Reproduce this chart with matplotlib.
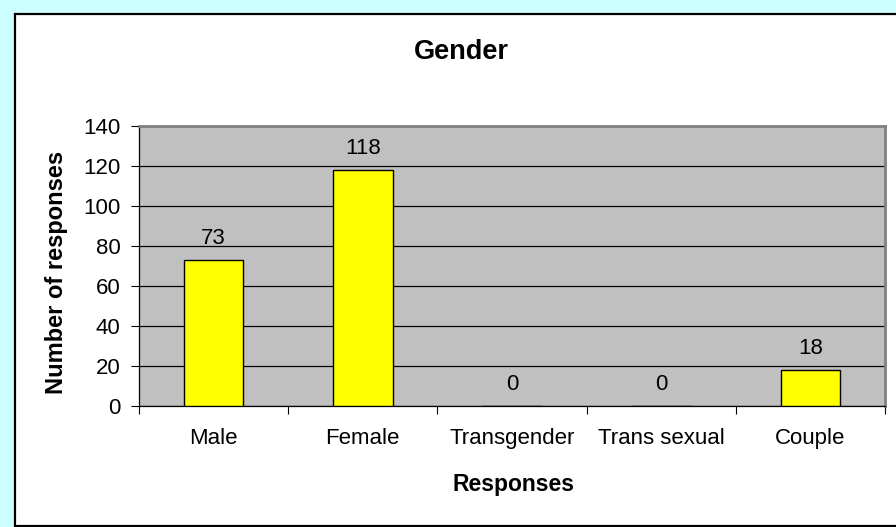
import matplotlib
matplotlib.use("Agg")
import matplotlib.pyplot as plt
from matplotlib.patches import Rectangle

categories = ["Male", "Female", "Transgender", "Trans sexual", "Couple"]
values = [73, 118, 0, 0, 18]
yticks = [0, 20, 40, 60, 80, 100, 120, 140]

plt.rcParams['font.family'] = ['Liberation Sans', 'DejaVu Sans']

W, H = 896, 527
fig = plt.figure(figsize=(W / 100, H / 100), dpi=100)
fig.patch.set_facecolor('#CCFFFF')

# white chart area with black border
bg = Rectangle((15 / W, 1.0 / H), 1.0, (527 - 14 - 1) / H,
               transform=fig.transFigure, facecolor='white',
               edgecolor='black', linewidth=1.6, zorder=-10)
fig.patches.append(bg)

ax = fig.add_axes([139 / W, 1 - 406 / H, (885 - 139) / W, (406 - 126) / H])
ax.set_zorder(5)
ax.set_facecolor('#C0C0C0')
x = list(range(len(categories)))
ax.bar(x, values, width=0.4, color='#FFFF00', edgecolor='black', linewidth=1.0, zorder=3)
ax.set_xlim(-0.5, len(categories) - 0.5)
ax.set_ylim(0, 140)
ax.set_yticks(yticks)
ax.set_yticklabels([str(t) for t in yticks], fontsize=16)
ax.yaxis.grid(True, color='black', linewidth=0.9, zorder=1)
ax.set_axisbelow(True)

ax.set_xticks([i + 0.5 for i in range(-1, len(categories))])
ax.set_xticklabels([])
ax.set_xticks(x, minor=True)
ax.set_xticklabels(categories, minor=True, fontsize=16)
ax.tick_params(axis='x', which='minor', length=0, pad=15.5)
ax.tick_params(axis='x', which='major', length=6, width=0.8, direction='out')
ax.tick_params(axis='y', length=5.5, width=0.8, direction='out', pad=8)

for s in ['left', 'bottom']:
    ax.spines[s].set_color('black')
    ax.spines[s].set_linewidth(0.9)
for s in ['top', 'right']:
    ax.spines[s].set_color('#808080')
    ax.spines[s].set_linewidth(2.0)

for xi, v in zip(x, values):
    ax.annotate(str(v), (xi, v), xytext=(0, 8), textcoords='offset points',
                ha='center', va='bottom', fontsize=16)

fig.text(461 / W, 1 - 52 / H, "Gender", ha='center', va='center',
         fontsize=19.5, fontweight='bold')
fig.text(56 / W, 1 - 272 / H, "Number of responses", ha='center', va='center',
         rotation=90, fontsize=17, fontweight='bold')
fig.text(513 / W, 1 - 484 / H, "Responses", ha='center', va='center',
         fontsize=16.5, fontweight='bold')

fig.savefig("out.png", dpi=100, facecolor=fig.get_facecolor())
